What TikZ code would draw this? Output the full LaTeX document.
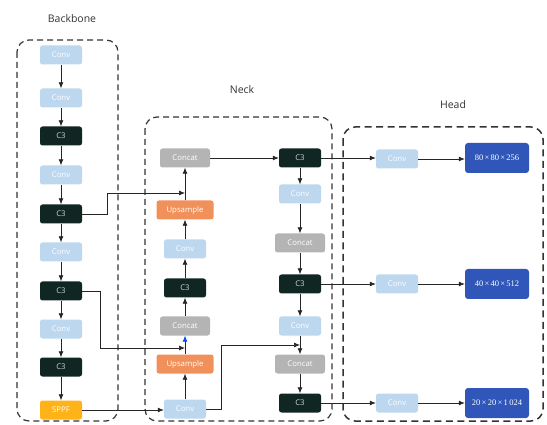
\documentclass[tikz,border=0pt]{standalone}
\usepackage{fontspec}
\setsansfont{Open Sans}
\newfontfamily\serifout{Liberation Serif}
\usetikzlibrary{arrows.meta}
\definecolor{convc}{HTML}{BDD7EE}
\definecolor{cthreec}{HTML}{0F2623}
\definecolor{concatc}{HTML}{B4B4B4}
\definecolor{upsc}{HTML}{F0905A}
\definecolor{sppfc}{HTML}{FFB319}
\definecolor{outc}{HTML}{2F56B8}
\definecolor{labc}{HTML}{333333}
\tikzset{
  blk/.style={rounded corners=2.5pt, minimum height=19pt, inner sep=0pt, text=white, font=\sffamily\fontsize{7.8}{9}\selectfont},
  convb/.style={blk, fill=convc, minimum width=42pt},
  cthreeb/.style={blk, fill=cthreec, text=gray!35, minimum width=42pt},
  concatb/.style={blk, fill=concatc, minimum width=50pt},
  upsb/.style={blk, fill=upsc, minimum width=57pt},
  sppfb/.style={blk, fill=sppfc, minimum width=42pt},
  outb/.style={rounded corners=3pt, fill=outc, text=white, minimum width=64pt, minimum height=30pt, inner sep=0pt, font=\serifout\fontsize{8.5}{10}\selectfont},
  grp/.style={draw=black!80, line width=1.2pt, dash pattern=on 6pt off 4pt, rounded corners=12pt},
  arr/.style={draw=black!85, line width=0.7pt, -{Latex[length=6pt,width=5pt]}},
  lab/.style={text=labc, font=\sffamily\fontsize{10.5}{12}\selectfont}
}
\newcommand{\xx}{\kern0.15em×\kern0.15em}
\begin{document}
\begin{tikzpicture}[x=1pt,y=-1pt]
\path[use as bounding box] (0,0) rectangle (547,425);
% groups
\draw[grp] (17,40) rectangle (118,421);
\draw[grp] (145,117) rectangle (332,421);
\draw[grp, line width=1.5pt, dash pattern=on 7pt off 4.5pt] (343,127) rectangle (543,421);
\node[lab] (tb) at (72,19) {Backbone};
\node[lab] (tn) at (242,90) {Neck};
\node[lab] (th) at (453,105) {Head};
% backbone
\node[convb] (b1) at (61,55) {Conv};
\node[convb] (b2) at (61,98) {Conv};
\node[cthreeb] (b3) at (61,136) {C3};
\node[convb] (b4) at (61,175) {Conv};
\node[cthreeb] (b5) at (61,214) {C3};
\node[convb] (b6) at (61,252) {Conv};
\node[cthreeb] (b7) at (61,291) {C3};
\node[convb] (b8) at (61,329) {Conv};
\node[cthreeb] (b9) at (61,367) {C3};
\node[sppfb] (b10) at (61,410) {SPPF};
\foreach \a/\b in {b1/b2,b2/b3,b3/b4,b4/b5,b5/b6,b6/b7,b7/b8,b8/b9,b9/b10}
  \draw[arr] (\a) -- (\b);
% neck left column
\node[concatb] (l1) at (185,158) {Concat};
\node[upsb] (l2) at (185,210) {Upsample};
\node[convb] (l3) at (185,249) {Conv};
\node[cthreeb] (l4) at (185,288) {C3};
\node[concatb] (l5) at (185,326) {Concat};
\node[upsb] (l6) at (185,364) {Upsample};
\node[convb] (l7) at (185,409) {Conv};
\draw[arr] (l7) -- (l6);
\draw[arr, -{Latex[length=6pt,width=5pt,color=blue!70!cyan]}] (l6) -- (l5);
\draw[arr] (l5) -- (l4);
\draw[arr] (l4) -- (l3);
\draw[arr] (l3) -- (l2);
\draw[arr] (l2) -- (l1);
% neck right column
\node[cthreeb] (r1) at (300,158) {C3};
\node[convb] (r2) at (300,194) {Conv};
\node[concatb] (r3) at (300,243) {Concat};
\node[cthreeb] (r4) at (300,284) {C3};
\node[convb] (r5) at (300,326) {Conv};
\node[concatb] (r6) at (300,364) {Concat};
\node[cthreeb] (r7) at (300,403) {C3};
\foreach \a/\b in {r1/r2,r2/r3,r3/r4,r4/r5,r5/r6,r6/r7}
  \draw[arr] (\a) -- (\b);
\draw[arr] (l1) -- (r1);
% head
\node[convb] (h1) at (397,159) {Conv};
\node[convb] (h2) at (397,284) {Conv};
\node[convb] (h3) at (397,403) {Conv};
\node[outb] (o1) at (497,158) {80\xx80\xx256};
\node[outb] (o2) at (497,284) {40\xx40\xx512};
\node[outb] (o3) at (497,403) {20\xx20\xx1\,024};
\draw[arr] (r1.east) -- (h1.west |- r1.east);
\draw[arr] (r4) -- (h2);
\draw[arr] (r7) -- (h3);
\draw[arr] (h1) -- (o1.west |- h1.east);
\draw[arr] (h2) -- (o2);
\draw[arr] (h3) -- (o3);
% skip connections
\coordinate (m1) at (185,193);
\draw[arr] (b5.east) -- (107,214) -- (107,193) -- (m1);
\coordinate (m2) at (185,348);
\draw[arr] (b7.east) -- (100,291) -- (100,348) -- (m2);
\draw[arr] (b10.east) -- (l7.west |- b10.east);
\coordinate (m3) at (300,345);
\draw[arr] (l7.east) -- (221,409) -- (221,345) -- (m3);
\end{tikzpicture}
\end{document}
